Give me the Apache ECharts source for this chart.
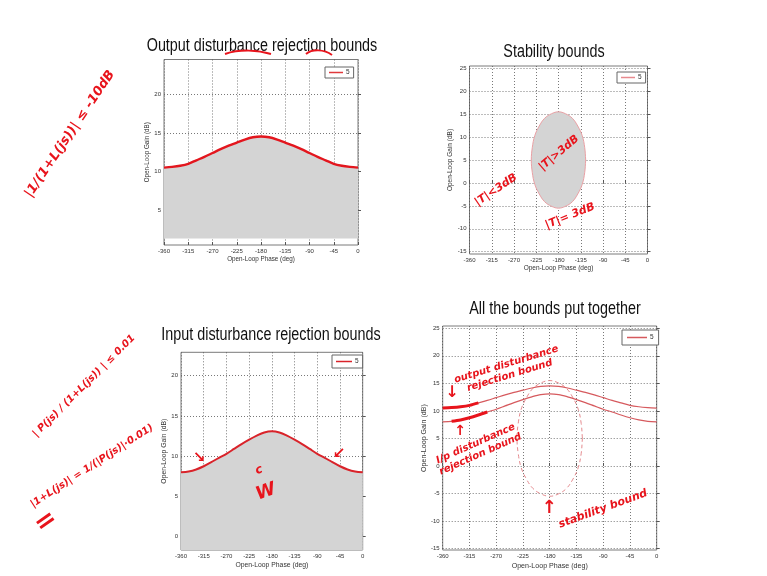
<!DOCTYPE html>
<html>
<head>
<meta charset="utf-8">
<script src="https://cdn.jsdelivr.net/npm/echarts@6/dist/echarts.min.js"></script>
<style>
  html, body { margin: 0; padding: 0; background: #fff; }
  #chart { width: 767px; height: 576px; }
</style>
</head>
<body>
<div id="chart"></div>
<script>
// Open-loop phase samples (deg)
const phase = [-360, -345, -330, -315, -300, -285, -270, -255, -240, -225, -210, -195, -180,
               -165, -150, -135, -120, -105, -90, -75, -60, -45, -30, -15, 0];
// Output disturbance rejection bound (dB)
const outputBound = [10.5, 10.6, 10.75, 11.0, 11.45, 11.9, 12.4, 12.9, 13.35, 13.75, 14.15, 14.45, 14.55,
                     14.45, 14.15, 13.75, 13.35, 12.9, 12.4, 11.9, 11.45, 11.0, 10.75, 10.6, 10.5];
// Input disturbance rejection bound (dB)
const inputBound = [8.0, 8.1, 8.35, 8.75, 9.25, 9.8, 10.3, 10.9, 11.5, 12.05, 12.55, 12.95, 13.1,
                    12.95, 12.55, 12.05, 11.5, 10.9, 10.3, 9.8, 9.25, 8.75, 8.35, 8.1, 8.0];
// Stability bound contour (|T| = 3 dB), closed loop
const stabPhase = [-125, -127, -132, -141, -152, -166, -180, -194, -208, -219, -228, -233, -235,
                   -233, -228, -219, -208, -194, -180, -166, -152, -141, -132, -127, -125];
const stabGain  = [5, 7.7, 10.3, 12.4, 14.1, 15.1, 15.5, 15.1, 14.1, 12.4, 10.3, 7.7, 5,
                   2.3, -0.3, -2.4, -4.1, -5.1, -5.5, -5.1, -4.1, -2.4, -0.3, 2.3, 5];
// Tick labels
const phaseTicks = [-360, -315, -270, -225, -180, -135, -90, -45, 0];
const gainTicksOut = [5, 10, 15, 20];
const gainTicksIn = [0, 5, 10, 15, 20];
const gainTicksWide = [-15, -10, -5, 0, 5, 10, 15, 20, 25];
// Plot titles
const titles = ['Output disturbance rejection bounds', 'Stability bounds',
                'Input disturbance rejection bounds', 'All the bounds put together'];
const legendName = '5';

const FONT = '"Liberation Sans",Arial,sans-serif';
const HAND = '"DejaVu Sans",sans-serif';
const INK = '#e8141c';

const pairs = (xs, ys) => xs.map((x, i) => [x, ys[i]]);

const grids = [
  { left: 164, top: 59.5, width: 194, height: 185.5 },
  { left: 469.5, top: 66, width: 178, height: 188 },
  { left: 181, top: 352.3, width: 181.7, height: 197.7 },
  { left: 442.7, top: 326, width: 214, height: 224 }
].map(g => Object.assign(g, { show: true, borderColor: '#7a7a7a', borderWidth: 1, backgroundColor: '#fff' }));

const gridLine = { show: true, lineStyle: { color: '#555', width: 0.8, type: [1, 2] } };

function xAxis(i, gap, fs) {
  return {
    type: 'value', gridIndex: i, min: -360, max: 0, interval: 45,
    name: 'Open-Loop Phase (deg)', nameLocation: 'middle', nameGap: gap,
    nameTextStyle: { fontFamily: FONT, fontSize: fs, color: '#333' },
    axisLine: { show: false },
    axisTick: { show: true, inside: true, length: 3, lineStyle: { color: '#555' } },
    axisLabel: { fontFamily: FONT, fontSize: 6, color: '#333', margin: 3,
                 customValues: phaseTicks },
    splitLine: gridLine
  };
}
function yAxis(i, min, max, ticks, gap, fs) {
  return {
    type: 'value', gridIndex: i, min: min, max: max,
    name: 'Open-Loop Gain (dB)', nameLocation: 'middle', nameGap: gap,
    nameTextStyle: { fontFamily: FONT, fontSize: fs, color: '#333' },
    axisLine: { show: false },
    axisTick: { show: true, inside: true, length: 3, customValues: ticks, lineStyle: { color: '#555' } },
    axisLabel: { fontFamily: FONT, fontSize: 6, color: '#333', margin: 3, customValues: ticks },
    splitLine: gridLine
  };
}

function legend(left, top, w, padding, lineColor) {
  return {
    data: [legendName], left: left, top: top, orient: 'vertical',
    selectedMode: false, icon: 'rect', itemWidth: w, itemHeight: 1.5,
    itemStyle: { color: lineColor, borderWidth: 0 },
    textStyle: { fontFamily: FONT, fontSize: 6.5, color: '#333', padding: [0, 0, 0, -2] },
    backgroundColor: '#fff', borderColor: '#666', borderWidth: 1, padding: padding
  };
}

function contour(xi, style) {
  return {
    type: 'custom', xAxisIndex: xi, yAxisIndex: xi, silent: true,
    data: [[-180, 5]],
    renderItem: function (params, api) {
      const pts = stabPhase.map((p, k) => api.coord([p, stabGain[k]]));
      return { type: 'polygon', shape: { points: pts, smooth: 0.4 }, style: style };
    }
  };
}

// Hand-drawn notes over the slide
const notes = [
  { t: '|1/(1+L(js))| ≤ -10dB', x: 70, y: 134, r: 56, s: 13 },
  { t: '| P(js) / (1+L(js)) | ≤ 0.01', x: 84, y: 386, r: 45, s: 10 },
  { t: '|1+L(js)| = 1/(|P(js)|·0.01)', x: 92, y: 466, r: 33, s: 10 },
  { t: '=', x: 46, y: 522, r: 35, s: 26 },
  { t: '|T|>3dB', x: 559, y: 153, r: 40, s: 11 },
  { t: '|T|<3dB', x: 496, y: 190, r: 34, s: 11 },
  { t: '|T|= 3dB', x: 570, y: 216, r: 22, s: 11 },
  { t: '↘', x: 199, y: 458, r: 0, s: 15 },
  { t: '↙', x: 339, y: 454, r: 0, s: 15 },
  { t: 'W', x: 266, y: 492, r: 20, s: 18 },
  { t: 'c', x: 259, y: 470, r: 20, s: 12 },
  { t: 'output disturbance\nrejection bound', x: 508, y: 370, r: 17, s: 10 },
  { t: '↓', x: 452, y: 393, r: 0, s: 16 },
  { t: '↑', x: 460, y: 431, r: 0, s: 14 },
  { t: 'I/p disturbance\nrejection bound', x: 478, y: 449, r: 24, s: 10 },
  { t: '↑', x: 549, y: 508, r: 0, s: 18 },
  { t: 'stability bound', x: 603, y: 509, r: 20, s: 11 }
];

const graphics = [];
const titlePos = [[262, 46], [554, 52], [271, 335], [555, 309]];
// condensed title lettering: taller glyphs squeezed horizontally
titles.forEach((t, i) => graphics.push({
  type: 'text', x: titlePos[i][0], y: titlePos[i][1], z: 10, scaleX: 0.82,
  style: { text: t, fontFamily: FONT, fontSize: 17.5, fill: '#111', align: 'center', verticalAlign: 'middle' }
}));
notes.forEach(n => graphics.push({
  type: 'text', x: n.x, y: n.y, rotation: n.r * Math.PI / 180, z: 20,
  style: { text: n.t, fontFamily: HAND, fontSize: n.s, fontStyle: 'italic', fontWeight: 'bold',
           fill: INK, align: 'center', verticalAlign: 'middle', lineHeight: n.s * 1.15 }
}));
// underline strokes on the first title
graphics.push({ type: 'bezierCurve', z: 20, shape: { x1: 225, y1: 54, x2: 271, y2: 54, cpx1: 240, cpy1: 49, cpx2: 258, cpy2: 50 },
  style: { stroke: INK, lineWidth: 2, fill: null } });
graphics.push({ type: 'bezierCurve', z: 20, shape: { x1: 306, y1: 54, x2: 332, y2: 55, cpx1: 312, cpy1: 49, cpx2: 324, cpy2: 49 },
  style: { stroke: INK, lineWidth: 2, fill: null } });

const option = {
  animation: false,
  backgroundColor: '#fff',
  grid: grids,
  xAxis: [xAxis(0, 11, 6.3), xAxis(1, 11, 6.5), xAxis(2, 12, 6.8), xAxis(3, 13, 7.1)],
  yAxis: [
    yAxis(0, 0.45, 24.55, gainTicksOut, 7, 6.3),
    yAxis(1, -15.5, 25.5, gainTicksWide, 11, 6.5),
    yAxis(2, -1.65, 22.9, gainTicksIn, 11, 6.8),
    yAxis(3, -15.25, 25.4, gainTicksWide, 14, 7.1)
  ],
  legend: [
    legend(325, 67, 14, [2, 4, 2, 4], '#e0393c'),
    legend(617, 72, 14, [2, 4, 2, 4], '#e88a8f'),
    legend(332, 355, 16, [3, 4, 3, 4], '#d9232a'),
    legend(622, 330, 20, [4, 5, 4, 5], '#d65a5e')
  ],
  graphic: graphics,
  series: [
    // Output disturbance rejection bound, shaded region below
    { name: legendName, type: 'line', xAxisIndex: 0, yAxisIndex: 0, data: pairs(phase, outputBound),
      smooth: 0.3, symbol: 'none', lineStyle: { color: '#e3161e', width: 2.4 },
      areaStyle: { color: '#d4d4d4', opacity: 1, origin: 1.3 }, z: 3 },
    // Stability bound
    Object.assign(contour(1, { fill: '#d4d4d4', stroke: '#eaa0a4', lineWidth: 1 }), { name: legendName }),
    // Input disturbance rejection bound, shaded region below
    { name: legendName, type: 'line', xAxisIndex: 2, yAxisIndex: 2, data: pairs(phase, inputBound),
      smooth: 0.3, symbol: 'none', lineStyle: { color: '#d9232a', width: 2 },
      areaStyle: { color: '#d4d4d4', opacity: 1, origin: 'start' }, z: 3 },
    // Combined bounds
    { name: legendName, type: 'line', xAxisIndex: 3, yAxisIndex: 3, data: pairs(phase, outputBound),
      smooth: 0.3, symbol: 'none', lineStyle: { color: '#d65a5e', width: 1.2 }, z: 3 },
    { name: legendName, type: 'line', xAxisIndex: 3, yAxisIndex: 3, data: pairs(phase, inputBound),
      smooth: 0.3, symbol: 'none', lineStyle: { color: '#d65a5e', width: 1.2 }, z: 3 },
    contour(3, { fill: null, stroke: '#e58a8e', lineWidth: 1, lineDash: [4, 3] }),
    // marker strokes traced over the left ends of both bounds
    { name: 'trace-out', type: 'line', xAxisIndex: 3, yAxisIndex: 3, data: pairs(phase, outputBound).slice(0, 5),
      smooth: 0.3, symbol: 'none', silent: true, lineStyle: { color: INK, width: 3 }, z: 5 },
    { name: 'trace-in', type: 'line', xAxisIndex: 3, yAxisIndex: 3, data: pairs(phase, inputBound).slice(1, 6),
      smooth: 0.3, symbol: 'none', silent: true, lineStyle: { color: INK, width: 3 }, z: 5 }
  ]
};

echarts.init(document.getElementById('chart'), null, { renderer: 'canvas' }).setOption(option);
</script>
</body>
</html>
